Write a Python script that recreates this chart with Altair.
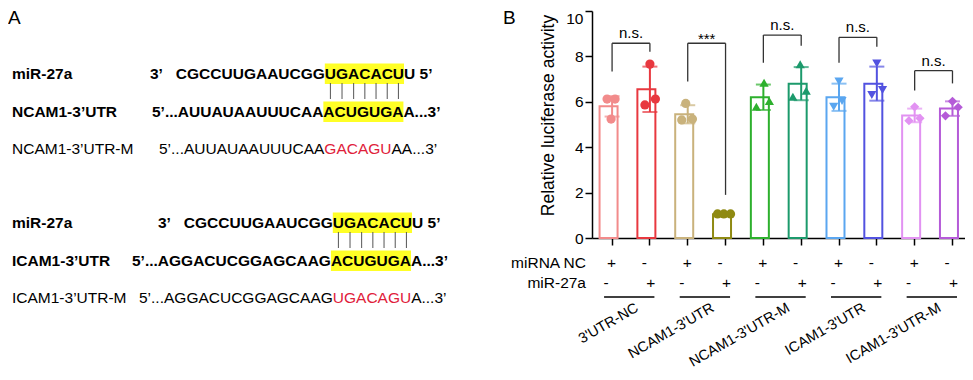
import altair as alt
import pandas as pd

# ------------------------------------------------------------------ data
groups = ["3'UTR-NC", "NCAM1-3'UTR", "NCAM1-3'UTR-M", "ICAM1-3'UTR", "ICAM1-3'UTR-M"]
treatments = ["miRNA NC", "miR-27a"]
bar_ids = [f"{g}|{t}" for g in groups for t in treatments]
bar_means = [5.8, 6.55, 5.45, 1.05, 6.2, 6.8, 6.2, 6.8, 5.4, 5.7]
bar_sd = [0.45, 1.0, 0.4, 0.04, 0.56, 0.73, 0.6, 0.75, 0.3, 0.32]
rep_a = [6.12, 7.66, 5.93, 1.06, 6.84, 7.65, 6.89, 7.69, 5.78, 6.02]
rep_b = [6.12, 5.86, 5.20, 1.06, 5.78, 6.22, 5.78, 6.30, 5.17, 5.76]
rep_c = [5.24, 6.12, 5.24, 1.06, 6.03, 6.49, 6.04, 6.52, 5.27, 5.38]
nc_row = ["+", "-"] * 5
mir_row = ["-", "+"] * 5
sig_labels = ["n.s.", "***", "n.s.", "n.s.", "n.s."]
sig_top = [8.58, 8.58, 8.94, 8.84, 7.37]
sig_left = [7.33, 6.89, 7.72, 7.72, 6.50]
sig_right = [8.20, 1.90, 8.47, 8.43, 6.81]
y_title = "Relative luciferase activity"
y_ticks = [0, 2, 4, 6, 8, 10]

mir_name = "miR-27a"
mir_seq = ["3’", "CGCCUUGAAUCGG", "UGACACU", "U 5’"]
ncam_name = "NCAM1-3’UTR"
ncam_seq = ["5’...AUUAUAAUUUCAA", "ACUGUGA", "A...3’"]
ncam_mut_name = "NCAM1-3’UTR-M"
ncam_mut_seq = ["5’...AUUAUAAUUUCAA", "GACAGU", "AA...3’"]
icam_name = "ICAM1-3’UTR"
icam_seq = ["5’...AGGACUCGGAGCAAG", "ACUGUGA", "A...3’"]
icam_mut_name = "ICAM1-3’UTR-M"
icam_mut_seq = ["5’...AGGACUCGGAGCAAG", "UGACAGU", "A...3’"]

# ------------------------------------------------------------------ style / layout
FONT = "Liberation Sans"
FS = 15.5
PLOT_W, PLOT_H = 373, 227
ORIGIN_X, ORIGIN_Y = 592, 11          # page position of the bar plot's origin
colors = ["#F28B8B", "#E8383F", "#C9B27C", "#8F8A12", "#2DB02D",
          "#1C9A6C", "#5AA6F0", "#5252E0", "#E292F2", "#B55BD8"]
shapes = ["circle"] * 4 + ["triangle-up"] * 2 + ["triangle-down"] * 2 + ["diamond"] * 2
jit_a = [3, 0, -2, -8, 0.7, -1, 0, 0, 0, 0]
jit_b = [-5, -5, -6, -1.7, -7, -8.3, -5.3, -5, -5.7, 5.7]
jit_c = [-1, 5.5, 4.7, 5, 6, 5, 3, 5.7, 5.3, -7]
RED = "#E0203A"
YELLOW = "#FFFF26"


def gx(x):
    return x - ORIGIN_X


def gy(y):
    return y - ORIGIN_Y


REG = {' ': 278, '.': 278, '-': 333, '’': 222, "'": 191, '1': 556, '2': 556, '3': 556,
       '5': 556, '7': 556, 'A': 667, 'C': 722, 'G': 778, 'U': 722, 'N': 722, 'M': 833,
       'I': 278, 'T': 611, 'R': 722, 'a': 556, 'i': 222, 'm': 833}
BOLD = {' ': 278, '.': 278, '-': 333, '’': 278, "'": 238, '1': 556, '2': 556, '3': 556,
        '5': 556, '7': 556, 'A': 722, 'C': 722, 'G': 778, 'U': 722, 'N': 722, 'M': 833,
        'I': 278, 'T': 611, 'R': 722, 'a': 556, 'i': 278, 'm': 889}


def tw(s, bold):
    t = BOLD if bold else REG
    return sum(t.get(c, 600) for c in s) * FS / 1000


ONE = pd.DataFrame({"k": [0]})
rect_layers, text_layers = [], []


def txt(x, y, s, bold=False, color="black", size=FS, align="left", baseline="middle"):
    text_layers.append(
        alt.Chart(ONE).mark_text(text=s, font=FONT, fontSize=size,
                                 fontWeight="bold" if bold else "normal",
                                 color=color, align=align, baseline=baseline)
        .encode(x=alt.value(gx(x)), y=alt.value(gy(y))))


def rect(x0, x1, y0, y1, color):
    rect_layers.append(
        alt.Chart(ONE).mark_rect(color=color)
        .encode(x=alt.value(gx(x0)), x2=alt.value(gx(x1)),
                y=alt.value(gy(y0)), y2=alt.value(gy(y1))))


def vline(x, y0, y1):
    text_layers.append(
        alt.Chart(ONE).mark_rule(color="#555555", strokeWidth=1)
        .encode(x=alt.value(gx(x)), y=alt.value(gy(y0)), y2=alt.value(gy(y1))))


def mir_row_draw(y, x_start):
    txt(12, y, mir_name, bold=True)
    x = x_start
    txt(x, y, mir_seq[0], bold=True)
    x += tw(mir_seq[0], True) + tw("   ", True)
    txt(x, y, mir_seq[1], bold=True)
    x += tw(mir_seq[1], True)
    hl0 = x
    w = tw(mir_seq[2], True)
    rect(x, x + w, y - 10.5, y + 10, YELLOW)
    txt(x, y, mir_seq[2], bold=True)
    x += w
    txt(x, y, mir_seq[3], bold=True)
    cx, centres = hl0, []
    for ch in mir_seq[2]:
        cw = BOLD[ch] * FS / 1000
        centres.append(cx + cw / 2)
        cx += cw
    return centres


def target_row(y, name, seq, x_start):
    txt(12, y, name, bold=True)
    x = x_start
    txt(x, y, seq[0], bold=True)
    x += tw(seq[0], True)
    w = tw(seq[1], True)
    rect(x, x + w, y - 10.5, y + 10, YELLOW)
    txt(x, y, seq[1], bold=True)
    x += w
    txt(x, y, seq[2], bold=True)


def mutant_row(y, name, seq, x_start):
    txt(12, y, name)
    x = x_start
    txt(x, y, seq[0])
    x += tw(seq[0], False)
    txt(x, y, seq[1], color=RED)
    x += tw(seq[1], False)
    txt(x, y, seq[2])


cent1 = mir_row_draw(74, 150)
target_row(112, ncam_name, ncam_seq, 152)
mutant_row(149, ncam_mut_name, ncam_mut_seq, 159)
for c in cent1:
    vline(c, 83, 99)
cent2 = mir_row_draw(223, 158)
target_row(261, icam_name, icam_seq, 132)
mutant_row(298, icam_mut_name, icam_mut_seq, 139)
for c in cent2:
    vline(c, 232, 248)

txt(8, 24, "A", size=19, baseline="alphabetic")
txt(503, 24, "B", size=19, baseline="alphabetic")
txt(586, 262.7, treatments[0], align="right")
txt(586, 283.3, treatments[1], align="right")

# ------------------------------------------------------------------ bar panel
xscale = alt.Scale(domain=bar_ids, paddingInner=0.338, paddingOuter=0.1, align=1)
yscale = alt.Scale(domain=[0, 10], nice=False, zero=True)
cscale = alt.Scale(domain=bar_ids, range=colors)
STEP = PLOT_W / (10 - 0.338 + 0.2)

df = pd.DataFrame({"id": bar_ids, "mean": bar_means, "sd": bar_sd,
                   "nc": nc_row, "mir": mir_row})
df["lo"] = df["mean"] - df["sd"]
df["hi"] = df["mean"] + df["sd"]

x_axis = alt.Axis(title=None, labels=False, ticks=True, tickSize=7, tickWidth=1.5,
                  tickColor="black", domainColor="black", domainWidth=1.5, grid=False)
y_axis = alt.Axis(title=y_title, values=y_ticks, tickSize=7, tickWidth=1.5,
                  tickColor="black", domainColor="black", domainWidth=1.5,
                  labelFont=FONT, labelFontSize=FS, labelColor="black", labelPadding=2,
                  labelBaseline={"condition": {"test": "datum.value == 10", "value": "top"},
                                 "value": "middle"},
                  titleFont=FONT, titleFontSize=17.5, titleFontWeight="normal",
                  titleColor="black", titleX=gx(553), titleY=gy(115), titleAngle=270,
                  titleAlign="center", titleBaseline="alphabetic", grid=False)


def X(field, **kw):
    return alt.X(f"{field}:N", scale=xscale, axis=x_axis, **kw)


def Y(field):
    return alt.Y(f"{field}:Q", scale=yscale, axis=y_axis)


bars = alt.Chart(df).mark_bar(fill="white", strokeWidth=2).encode(
    x=X("id"), y=Y("mean"),
    stroke=alt.Stroke("id:N", scale=cscale, legend=None))

err = alt.Chart(df).mark_rule(strokeWidth=2).encode(
    x=X("id"), y=Y("lo"), y2="hi:Q",
    stroke=alt.Stroke("id:N", scale=cscale, legend=None))

caps = alt.Chart(df).transform_fold(["lo", "hi"], as_=["k", "v"]).mark_tick(
    size=15, thickness=2).encode(
    x=X("id"), y=Y("v"), color=alt.Color("id:N", scale=cscale, legend=None))

pts = pd.DataFrame({"id": bar_ids * 3, "value": rep_a + rep_b + rep_c,
                    "jit": jit_a + jit_b + jit_c})
points = alt.Chart(pts).mark_point(filled=True, size=85, opacity=1).encode(
    x=X("id"),
    xOffset=alt.XOffset("jit:Q", scale=alt.Scale(domain=[-12.5, 12.5])),
    y=Y("value"),
    color=alt.Color("id:N", scale=cscale, legend=None),
    shape=alt.Shape("id:N", scale=alt.Scale(domain=bar_ids, range=shapes), legend=None))

br = pd.DataFrame({"c1": bar_ids[0::2], "c2": bar_ids[1::2], "top": sig_top,
                   "left": sig_left, "right": sig_right, "label": sig_labels,
                   "group": groups})
BRC = "#333333"
hline = alt.Chart(br).mark_rule(color=BRC, strokeWidth=1.3).encode(
    x=X("c1"), x2="c2:N", y=Y("top"))
lleg = alt.Chart(br).mark_rule(color=BRC, strokeWidth=1.3).encode(
    x=X("c1"), y=Y("left"), y2="top:Q")
rleg = alt.Chart(br).mark_rule(color=BRC, strokeWidth=1.3).encode(
    x=X("c2"), y=Y("right"), y2="top:Q")
ns_txt = alt.Chart(br).transform_filter("datum.label == 'n.s.'").mark_text(
    font=FONT, fontSize=15, baseline="alphabetic", dx=STEP / 2, dy=-5).encode(
    x=X("c1"), y=Y("top"), text="label:N")
star_txt = alt.Chart(br).transform_filter("datum.label != 'n.s.'").mark_text(
    font=FONT, fontSize=15, baseline="alphabetic", dx=STEP / 2, dy=1).encode(
    x=X("c1"), y=Y("top"), text="label:N")

plus_nc = alt.Chart(df).transform_filter("datum.nc == '+'").mark_text(
    font=FONT, fontSize=FS, baseline="middle", dx=-0.5).encode(
    x=X("id"), y=alt.value(gy(262.7)), text="nc:N")
minus_nc = alt.Chart(df).transform_filter("datum.nc == '-'").mark_text(
    font=FONT, fontSize=FS, baseline="middle", dx=-5.5).encode(
    x=X("id"), y=alt.value(gy(262.7)), text="nc:N")
plus_mir = alt.Chart(df).transform_filter("datum.mir == '+'").mark_text(
    font=FONT, fontSize=FS, baseline="middle", dx=1).encode(
    x=X("id"), y=alt.value(gy(283.3)), text="mir:N")
minus_mir = alt.Chart(df).transform_filter("datum.mir == '-'").mark_text(
    font=FONT, fontSize=FS, baseline="middle", dx=-6).encode(
    x=X("id"), y=alt.value(gy(283.3)), text="mir:N")

under = alt.Chart(br).mark_rule(color="black", strokeWidth=1.3).encode(
    x=X("c1", bandPosition=0.18), x2=alt.X2("c2:N", bandPosition=0.68),
    y=alt.value(gy(297)))
glabels = alt.Chart(br).mark_text(
    font=FONT, fontSize=14.5, angle=330, align="right", baseline="top", dx=-4).encode(
    x=X("c2", bandPosition=0), y=alt.value(gy(299)), text="group:N")

chart = alt.layer(
    *rect_layers,
    bars, err, caps, points, hline, lleg, rleg, ns_txt, star_txt,
    plus_nc, minus_nc, plus_mir, minus_mir, under, glabels, *text_layers
).properties(
    width=PLOT_W, height=PLOT_H,
    padding={"left": ORIGIN_X - 8, "top": ORIGIN_Y - 8, "right": 0,
             "bottom": 364 - (ORIGIN_Y - 8) - PLOT_H},
    autosize=alt.AutoSizeParams(type="none"),
).configure_view(stroke=None)

chart.save("out.html", embed_options={"renderer": "svg", "actions": False})
